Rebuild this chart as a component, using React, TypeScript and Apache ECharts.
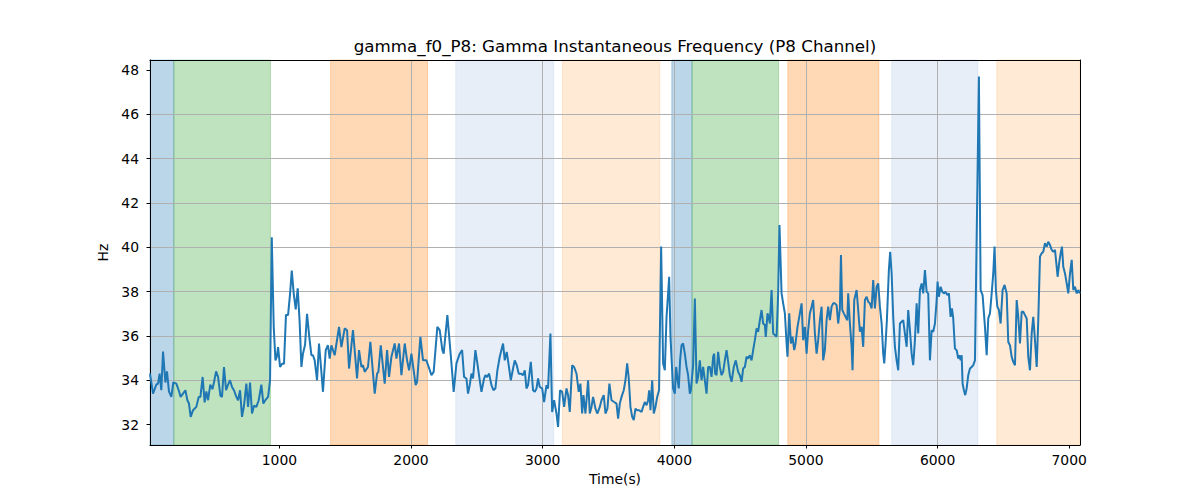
import React, { useEffect, useRef } from 'react';
import * as echarts from 'echarts';

const TITLE = 'gamma_f0_P8: Gamma Instantaneous Frequency (P8 Channel)';
const X_NAME = 'Time(s)';
const Y_NAME = 'Hz';

const X_MIN = 17;
const X_MAX = 7082;
const Y_MIN = 31.08;
const Y_MAX = 48.45;

const xTicks = [1000, 2000, 3000, 4000, 5000, 6000, 7000];
const yTicks = [32, 34, 36, 38, 40, 42, 44, 46, 48];

// [time (s), frequency (Hz)]
const gammaF0: [number, number][] = [
  [17, 34.3], [40, 33.4], [65, 33.8], [78, 33.85], [90, 34.3], [103, 33.55], [116, 35.3], [134, 33.9], [146, 34.4], [161, 33.5],
  [179, 33.25], [194, 33.9], [217, 33.85], [235, 33.55], [250, 33.25], [268, 33.4], [286, 33.55], [301, 33.1], [313, 32.95], [326, 32.35],
  [344, 32.65], [369, 32.8], [387, 33.25], [400, 33.25], [417, 34.15], [432, 33.0], [445, 33.5], [458, 33.1], [475, 33.8], [491, 33.6],
  [503, 33.9], [519, 34.4], [534, 34.15], [552, 33.3], [564, 33.25], [579, 34.6], [595, 33.55], [610, 33.8], [625, 34.0], [640, 33.7],
  [655, 33.55], [673, 33.25], [686, 33.1], [701, 33.55], [716, 32.35], [731, 32.85], [749, 33.85], [762, 32.8], [777, 33.9], [792, 32.5],
  [807, 32.85], [825, 32.8], [843, 33.1], [863, 33.8], [878, 32.95], [893, 33.1], [914, 33.25], [929, 34.0], [942, 40.45], [957, 36.4],
  [970, 34.9], [980, 35.05], [990, 35.5], [1005, 34.6], [1020, 34.75], [1035, 34.75], [1050, 36.95], [1066, 36.95], [1081, 37.9], [1094, 38.95],
  [1109, 37.9], [1124, 37.2], [1139, 38.15], [1154, 36.6], [1167, 34.6], [1179, 35.2], [1195, 35.6], [1210, 37.0], [1228, 35.9], [1243, 35.13],
  [1255, 35.13], [1268, 34.9], [1286, 34.0], [1301, 35.66], [1316, 34.6], [1331, 33.48], [1352, 35.36], [1369, 35.58], [1382, 34.98], [1395, 35.58],
  [1420, 35.13], [1453, 36.41], [1471, 35.5], [1496, 36.34], [1514, 36.26], [1529, 34.53], [1559, 36.26], [1590, 34.08], [1605, 35.36], [1623, 34.6],
  [1635, 34.68], [1648, 34.38], [1673, 34.6], [1691, 35.73], [1724, 33.4], [1742, 34.3], [1752, 34.38], [1770, 35.58], [1800, 33.85], [1818, 35.36],
  [1833, 34.15], [1851, 35.06], [1876, 35.66], [1889, 34.98], [1909, 35.66], [1927, 34.23], [1952, 35.66], [1970, 34.9], [1985, 34.45], [2003, 35.2],
  [2035, 33.78], [2046, 33.93], [2071, 35.96], [2091, 34.9], [2117, 34.9], [2155, 34.23], [2172, 34.38], [2200, 36.41], [2218, 36.26], [2238, 35.36],
  [2248, 35.2], [2276, 36.94], [2307, 34.76], [2324, 33.48], [2345, 34.76], [2370, 35.2], [2388, 35.36], [2403, 34.15], [2421, 34.08], [2433, 33.4],
  [2446, 33.78], [2459, 34.3], [2471, 34.08], [2489, 35.36], [2504, 34.76], [2522, 34.0], [2535, 33.48], [2555, 34.08], [2565, 34.23], [2578, 34.15],
  [2593, 34.3], [2611, 33.78], [2626, 33.55], [2641, 33.63], [2656, 34.45], [2674, 35.06], [2699, 35.66], [2712, 34.9], [2727, 35.28], [2742, 34.68],
  [2758, 34.0], [2775, 34.53], [2788, 34.9], [2803, 34.68], [2818, 34.3], [2834, 34.3], [2851, 34.23], [2864, 34.45], [2877, 33.63], [2889, 33.78],
  [2910, 34.83], [2927, 33.55], [2940, 33.48], [2953, 33.63], [2965, 34.08], [2978, 33.7], [2996, 33.63], [3011, 33.02], [3029, 33.78], [3041, 33.63],
  [3059, 36.11], [3072, 32.57], [3087, 33.1], [3105, 32.5], [3117, 31.9], [3132, 33.55], [3148, 33.48], [3163, 32.8], [3181, 33.63], [3193, 33.33],
  [3206, 32.57], [3224, 34.68], [3239, 34.6], [3257, 34.3], [3274, 33.48], [3287, 33.85], [3300, 32.5], [3310, 33.33], [3325, 32.5], [3345, 34.0],
  [3358, 32.5], [3371, 32.8], [3383, 33.25], [3401, 32.72], [3416, 32.5], [3434, 32.8], [3447, 33.1], [3464, 33.33], [3477, 32.5], [3492, 32.72],
  [3507, 33.85], [3523, 33.1], [3543, 33.02], [3561, 32.95], [3573, 32.27], [3586, 32.95], [3599, 33.25], [3616, 33.55], [3629, 34.0], [3642, 34.76],
  [3654, 34.08], [3667, 32.8], [3680, 32.35], [3692, 32.2], [3705, 32.72], [3718, 32.65], [3733, 32.65], [3751, 32.57], [3763, 32.8], [3776, 33.02],
  [3789, 32.87], [3801, 33.1], [3809, 33.55], [3819, 32.65], [3832, 34.0], [3844, 32.5], [3857, 32.8], [3870, 33.25], [3884, 33.55], [3900, 40.03],
  [3915, 34.76], [3928, 34.45], [3941, 36.86], [3953, 37.92], [3961, 38.67], [3971, 35.96], [3981, 34.76], [3991, 33.63], [4004, 33.4], [4014, 34.6],
  [4024, 34.08], [4034, 33.63], [4044, 34.9], [4055, 35.58], [4067, 35.66], [4080, 35.2], [4093, 34.6], [4105, 34.23], [4118, 33.4], [4126, 33.55],
  [4143, 34.68], [4156, 37.69], [4169, 33.85], [4181, 34.15], [4194, 34.9], [4207, 34.0], [4219, 34.6], [4232, 34.0], [4245, 33.4], [4257, 34.6],
  [4270, 34.6], [4283, 34.15], [4295, 35.06], [4303, 35.2], [4310, 34.3], [4321, 34.23], [4333, 35.28], [4346, 34.6], [4359, 34.23], [4371, 34.38],
  [4384, 34.9], [4397, 35.36], [4409, 34.83], [4422, 34.23], [4435, 33.93], [4452, 34.6], [4467, 34.9], [4485, 34.38], [4498, 34.23], [4511, 33.93],
  [4523, 34.53], [4536, 34.6], [4549, 35.06], [4561, 34.98], [4574, 35.13], [4587, 34.9], [4599, 35.36], [4612, 35.81], [4625, 36.34], [4637, 36.19],
  [4650, 36.71], [4663, 37.17], [4675, 36.56], [4688, 36.49], [4695, 35.96], [4708, 37.02], [4716, 36.86], [4726, 36.56], [4739, 38.07], [4751, 36.11],
  [4764, 36.04], [4777, 35.96], [4789, 37.92], [4799, 41.0], [4815, 37.92], [4827, 37.47], [4840, 37.02], [4853, 35.66], [4860, 35.06], [4873, 37.02],
  [4886, 35.66], [4898, 35.96], [4911, 35.36], [4921, 35.66], [4936, 36.41], [4954, 37.02], [4967, 37.47], [4979, 35.81], [4992, 36.41], [5005, 35.2],
  [5017, 36.26], [5030, 37.02], [5043, 37.32], [5055, 37.62], [5068, 36.11], [5081, 35.2], [5093, 35.81], [5106, 36.71], [5119, 37.32], [5131, 34.9],
  [5144, 35.36], [5157, 36.71], [5169, 37.32], [5182, 36.71], [5195, 37.32], [5207, 37.47], [5220, 37.47], [5233, 37.39], [5245, 36.56], [5258, 37.24],
  [5266, 39.65], [5276, 37.17], [5288, 37.02], [5301, 36.86], [5314, 36.71], [5321, 37.92], [5334, 36.56], [5347, 35.51], [5354, 34.45], [5367, 37.62],
  [5385, 38.07], [5397, 37.17], [5410, 36.19], [5423, 36.41], [5435, 35.51], [5448, 37.62], [5461, 37.77], [5473, 37.54], [5486, 37.47], [5499, 37.24],
  [5511, 38.52], [5524, 37.24], [5537, 38.22], [5549, 38.37], [5562, 37.32], [5575, 36.56], [5587, 35.2], [5595, 34.76], [5605, 35.66], [5615, 36.71],
  [5630, 38.97], [5640, 39.8], [5651, 38.82], [5663, 36.86], [5676, 35.51], [5689, 34.9], [5701, 34.45], [5714, 36.56], [5727, 36.64], [5739, 36.71],
  [5752, 36.11], [5765, 35.51], [5777, 37.17], [5790, 36.26], [5803, 35.2], [5815, 34.68], [5828, 35.81], [5841, 37.47], [5853, 36.11], [5866, 38.07],
  [5879, 38.37], [5891, 37.92], [5904, 38.97], [5917, 37.99], [5929, 37.92], [5942, 34.9], [5955, 36.26], [5967, 36.19], [5980, 36.56], [5993, 37.62],
  [6000, 38.45], [6010, 37.77], [6023, 38.22], [6036, 37.99], [6048, 37.92], [6061, 37.99], [6074, 37.84], [6086, 37.92], [6099, 36.86], [6109, 37.24],
  [6119, 36.79], [6132, 35.43], [6145, 35.36], [6157, 34.98], [6165, 35.13], [6175, 34.9], [6183, 35.13], [6190, 33.85], [6200, 33.55], [6210, 33.33],
  [6221, 33.63], [6233, 34.23], [6246, 34.53], [6259, 34.6], [6271, 34.68], [6284, 34.9], [6314, 47.7], [6327, 38.07], [6342, 37.84], [6360, 36.41],
  [6373, 35.13], [6385, 36.79], [6398, 37.02], [6411, 37.92], [6423, 38.82], [6433, 40.03], [6443, 38.07], [6454, 37.32], [6466, 37.17], [6479, 36.56],
  [6494, 38.07], [6509, 38.3], [6525, 37.92], [6537, 35.73], [6550, 35.58], [6563, 35.06], [6575, 34.83], [6588, 34.68], [6601, 37.62], [6613, 36.86],
  [6626, 35.66], [6639, 37.09], [6651, 37.09], [6664, 36.94], [6677, 36.79], [6689, 35.06], [6702, 34.45], [6715, 36.11], [6727, 36.86], [6740, 35.81],
  [6753, 34.6], [6765, 36.71], [6778, 39.58], [6791, 39.73], [6803, 39.8], [6816, 40.18], [6829, 40.03], [6841, 40.25], [6854, 40.1], [6867, 39.88],
  [6879, 39.8], [6892, 39.88], [6905, 39.12], [6912, 38.67], [6925, 39.35], [6935, 39.73], [6945, 40.03], [6955, 39.12], [6968, 38.82], [6981, 38.37],
  [6993, 37.92], [7006, 38.82], [7019, 39.43], [7031, 38.07], [7044, 38.22], [7057, 37.92], [7069, 38.07], [7082, 37.92],
];

// shaded intervals: [start, end, stage index]
const spans: [number, number, number][] = [
  [17, 198, 0], [198, 932, 1], [1389, 2125, 2], [2340, 3084, 3], [3150, 3890, 4],
  [3981, 4135, 0], [4135, 4792, 1], [4862, 5554, 2], [5652, 6306, 3], [6450, 7082, 4],
];
const spanColors = ['#1f77b4', '#2ca02c', '#ff7f0e', '#aec7e8', '#ffbb78'];

const FONT = 'DejaVu Sans';

const withAlpha = (hex: string, a: number) => {
  const n = parseInt(hex.slice(1), 16);
  return `rgba(${(n >> 16) & 255},${(n >> 8) & 255},${n & 255},${a})`;
};

export default function App() {
  const ref = useRef<HTMLDivElement | null>(null);

  useEffect(() => {
    if (!ref.current) return;
    const chart = echarts.init(ref.current, undefined, { renderer: 'svg' });
    const frame = { show: true, onZero: false, lineStyle: { color: '#000', width: 1 } };
    const hidden = { show: false };
    chart.setOption({
      animation: false,
      backgroundColor: '#fff',
      grid: { left: 150, right: 120, top: 60, bottom: 55 },
      graphic: [{
        type: 'text', x: 615, y: 46,
        style: { text: TITLE, textAlign: 'center', textVerticalAlign: 'middle', fontFamily: FONT, fontSize: 16.7, fill: '#000' },
      }],
      xAxis: [{
        type: 'value', min: X_MIN, max: X_MAX, splitNumber: 7,
        name: X_NAME, nameLocation: 'middle', nameGap: 23,
        nameTextStyle: { fontFamily: FONT, fontSize: 13.9, color: '#000' },
        axisLine: frame,
        axisTick: { show: true, length: 3.5, customValues: xTicks, lineStyle: { color: '#000' } },
        axisLabel: { customValues: xTicks, margin: 8, fontFamily: FONT, fontSize: 13.9, color: '#000', formatter: (v: number) => String(v) },
        splitLine: { show: true, showMinLine: false, showMaxLine: false, lineStyle: { color: '#b0b0b0', width: 1 } },
      }, {
        type: 'value', position: 'top', min: X_MIN, max: X_MAX,
        axisLine: frame, axisTick: hidden, axisLabel: hidden, splitLine: hidden,
      }],
      yAxis: [{
        type: 'value', min: Y_MIN, max: Y_MAX, splitNumber: 8,
        name: Y_NAME, nameLocation: 'middle', nameGap: 28,
        nameTextStyle: { fontFamily: FONT, fontSize: 13.9, color: '#000' },
        axisLine: frame,
        axisTick: { show: true, length: 3.5, customValues: yTicks, lineStyle: { color: '#000' } },
        axisLabel: { customValues: yTicks, margin: 11, fontFamily: FONT, fontSize: 13.9, color: '#000' },
        splitLine: { show: true, showMinLine: false, showMaxLine: false, lineStyle: { color: '#b0b0b0', width: 1 } },
      }, {
        type: 'value', position: 'right', min: Y_MIN, max: Y_MAX,
        axisLine: frame, axisTick: hidden, axisLabel: hidden, splitLine: hidden,
      }],
      series: [{
        type: 'line',
        data: gammaF0,
        showSymbol: false,
        symbol: 'none',
        z: 3,
        lineStyle: { color: '#1f77b4', width: 2 },
        markArea: {
          silent: true,
          z: -1,
          data: spans.map(([a, b, k]) => [
            {
              xAxis: a,
              itemStyle: {
                color: withAlpha(spanColors[k], 0.3),
                borderColor: withAlpha(spanColors[k], 0.3),
                borderWidth: 1,
              },
            },
            { xAxis: b },
          ]),
        },
      }],
    });
    return () => { chart.dispose(); };
  }, []);

  return <div ref={ref} style={{ position: 'absolute', left: 0, top: 0, width: 1200, height: 500 }} />;
}
